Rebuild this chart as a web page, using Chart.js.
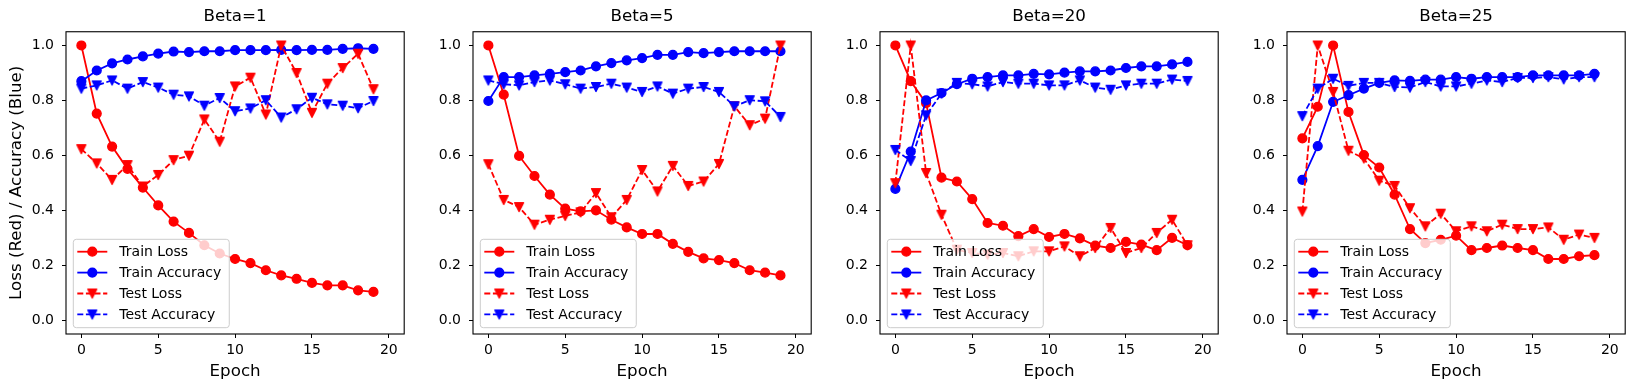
<!DOCTYPE html>
<html><head><meta charset="utf-8">
<script src="https://cdn.jsdelivr.net/npm/chart.js@4.4.1/dist/chart.umd.min.js"></script>
<style>
html,body{margin:0;padding:0;background:#fff;width:1639px;height:391px;overflow:hidden;}
.panel{position:absolute;top:0;width:410px;height:391px;}
canvas{display:block;}
</style></head><body>
<div class="panel" id="p0"><canvas id="c0" width="410" height="391"></canvas></div>
<div class="panel" id="p1"><canvas id="c1" width="410" height="391"></canvas></div>
<div class="panel" id="p2"><canvas id="c2" width="410" height="391"></canvas></div>
<div class="panel" id="p3"><canvas id="c3" width="410" height="391"></canvas></div>
<script>
// ---------------- data ----------------
const epochs = [0,1,2,3,4,5,6,7,8,9,10,11,12,13,14,15,16,17,18,19];
const betaTitles = ['Beta=1','Beta=5','Beta=20','Beta=25'];
const seriesLabels = ['Train Loss','Train Accuracy','Test Loss','Test Accuracy'];
const xTicks = [0,5,10,15,20];
const yTicks = [0.0,0.2,0.4,0.6,0.8,1.0];
const yAxisTitle = 'Loss (Red) / Accuracy (Blue)';
const xAxisTitle = 'Epoch';

const trainLossB1 = [1.0,0.752,0.632,0.551,0.483,0.418,0.359,0.318,0.273,0.243,0.223,0.208,0.182,0.163,0.151,0.136,0.127,0.127,0.109,0.103];
const trainAccB1  = [0.870,0.909,0.935,0.949,0.960,0.970,0.978,0.976,0.979,0.979,0.983,0.983,0.983,0.984,0.983,0.984,0.984,0.988,0.990,0.988];
const testLossB1  = [0.623,0.571,0.511,0.565,0.487,0.529,0.583,0.599,0.731,0.650,0.851,0.883,0.749,1.0,0.900,0.755,0.861,0.918,0.970,0.841];
const testAccB1   = [0.843,0.855,0.873,0.843,0.867,0.847,0.821,0.815,0.781,0.809,0.761,0.771,0.801,0.738,0.768,0.810,0.786,0.781,0.772,0.798];

const trainLossB5 = [1.0,0.821,0.598,0.525,0.457,0.406,0.396,0.400,0.366,0.338,0.314,0.314,0.278,0.249,0.225,0.219,0.208,0.182,0.173,0.163];
const trainAccB5  = [0.798,0.885,0.885,0.891,0.897,0.903,0.909,0.924,0.936,0.946,0.954,0.966,0.966,0.976,0.972,0.976,0.979,0.979,0.979,0.979];
const testLossB5  = [0.568,0.438,0.412,0.348,0.366,0.380,0.393,0.463,0.375,0.438,0.547,0.469,0.562,0.489,0.505,0.569,0.779,0.710,0.734,1.0];
const testAccB5   = [0.873,0.859,0.855,0.867,0.873,0.859,0.843,0.849,0.861,0.847,0.831,0.851,0.825,0.843,0.849,0.831,0.779,0.801,0.797,0.740];

const trainLossB20 = [1.0,0.870,0.790,0.519,0.505,0.441,0.354,0.344,0.306,0.332,0.303,0.314,0.298,0.272,0.263,0.285,0.275,0.255,0.300,0.273];
const trainAccB20  = [0.478,0.614,0.800,0.827,0.859,0.879,0.885,0.891,0.891,0.897,0.895,0.901,0.906,0.906,0.909,0.918,0.924,0.924,0.931,0.940];
const testLossB20  = [0.499,1.0,0.536,0.384,0.257,0.245,0.239,0.245,0.233,0.251,0.251,0.269,0.233,0.263,0.336,0.245,0.263,0.318,0.366,0.273];
const testAccB20   = [0.620,0.580,0.746,0.825,0.864,0.859,0.851,0.867,0.861,0.861,0.855,0.855,0.873,0.847,0.839,0.855,0.861,0.861,0.876,0.871];

const trainLossB25 = [0.662,0.777,1.0,0.758,0.601,0.556,0.457,0.332,0.281,0.293,0.308,0.255,0.263,0.272,0.263,0.255,0.223,0.223,0.233,0.237];
const trainAccB25  = [0.511,0.634,0.795,0.819,0.843,0.864,0.873,0.871,0.876,0.876,0.885,0.879,0.885,0.885,0.885,0.891,0.891,0.891,0.891,0.897];
const testLossB25  = [0.396,1.0,0.831,0.617,0.589,0.508,0.489,0.408,0.342,0.388,0.324,0.342,0.324,0.348,0.332,0.332,0.338,0.293,0.312,0.300];
const testAccB25   = [0.743,0.843,0.879,0.853,0.864,0.864,0.849,0.847,0.867,0.851,0.851,0.861,0.873,0.867,0.882,0.882,0.885,0.877,0.885,0.885];

const panelSeries = [
  [trainLossB1, trainAccB1, testLossB1, testAccB1],
  [trainLossB5, trainAccB5, testLossB5, testAccB5],
  [trainLossB20, trainAccB20, testLossB20, testAccB20],
  [trainLossB25, trainAccB25, testLossB25, testAccB25]
];

// ---------------- styling ----------------
const RED = '#ff0000', BLUE = '#0000ff';
const FONT = 'DejaVu Sans';
const panelLeft = [66, 473, 880, 1287];
const YAXIS_W = 66, RIGHT_PAD = 4;
const DASH = [6, 2.6];
const LINE_W = 1.8;
const PT_R = 4.4;

Chart.defaults.font.family = FONT;
Chart.defaults.color = '#000';

function makeTri(color){
  const c = document.createElement('canvas');
  c.width = 16; c.height = 16;
  const g = c.getContext('2d');
  const h = 4.4;
  g.beginPath();
  g.moveTo(8-h, 8-h); g.lineTo(8+h, 8-h); g.lineTo(8, 8+h); g.closePath();
  g.fillStyle = color; g.fill();
  g.lineWidth = 1.4; g.strokeStyle = color; g.lineJoin = 'round'; g.stroke();
  return c;
}
const triRed = makeTri(RED), triBlue = makeTri(BLUE);

const seriesStyle = [
  {color: RED,  dash: [], marker: 'circle', order: 3},
  {color: BLUE, dash: [], marker: 'circle', order: 2},
  {color: RED,  dash: DASH, marker: triRed, order: 1},
  {color: BLUE, dash: DASH, marker: triBlue, order: 0}
];

const framePlugin = {
  id: 'frame',
  afterDatasetsDraw(chart){
    const {ctx, chartArea: a} = chart;
    ctx.save();
    ctx.strokeStyle = '#000';
    ctx.lineWidth = 1.1;
    ctx.strokeRect(a.left, a.top, a.right - a.left, a.bottom - a.top);
    ctx.restore();
  }
};

const legendPlugin = {
  id: 'mplLegend',
  afterDraw(chart){
    const {ctx, chartArea: a} = chart;
    ctx.save();
    ctx.font = '14px "' + FONT + '"';
    let tw = 0;
    chart.data.datasets.forEach(d => { tw = Math.max(tw, ctx.measureText(d.label).width); });
    const w = 46 + tw + 8, h = 88.4;
    const x = a.left + 7.3, y = a.bottom - 6.3 - h;
    const r = 3;
    ctx.beginPath();
    ctx.moveTo(x + r, y);
    ctx.lineTo(x + w - r, y); ctx.quadraticCurveTo(x + w, y, x + w, y + r);
    ctx.lineTo(x + w, y + h - r); ctx.quadraticCurveTo(x + w, y + h, x + w - r, y + h);
    ctx.lineTo(x + r, y + h); ctx.quadraticCurveTo(x, y + h, x, y + h - r);
    ctx.lineTo(x, y + r); ctx.quadraticCurveTo(x, y, x + r, y);
    ctx.closePath();
    ctx.fillStyle = 'rgba(255,255,255,0.8)';
    ctx.fill();
    ctx.strokeStyle = '#cccccc';
    ctx.lineWidth = 1;
    ctx.stroke();
    chart.data.datasets.forEach((d, i) => {
      const st = seriesStyle[i];
      const ry = y + 12.4 + i * 20.9;
      const lx0 = x + 4, lx1 = x + 34;
      ctx.beginPath();
      ctx.setLineDash(st.dash);
      ctx.strokeStyle = st.color;
      ctx.lineWidth = LINE_W;
      ctx.moveTo(lx0, ry); ctx.lineTo(lx1, ry);
      ctx.stroke();
      ctx.setLineDash([]);
      const cx = (lx0 + lx1) / 2;
      if (st.marker === 'circle') {
        ctx.beginPath();
        ctx.arc(cx, ry, PT_R, 0, Math.PI * 2);
        ctx.fillStyle = st.color; ctx.fill();
        ctx.lineWidth = 1.4; ctx.strokeStyle = st.color; ctx.stroke();
      } else {
        ctx.drawImage(st.marker, cx - 8, ry - 8);
      }
      ctx.fillStyle = '#000';
      ctx.textAlign = 'left';
      ctx.textBaseline = 'middle';
      ctx.fillText(d.label, x + 46, ry + 0.5);
    });
    ctx.restore();
  }
};

panelSeries.forEach((series, p) => {
  const holder = document.getElementById('p' + p);
  holder.style.left = (panelLeft[p] - YAXIS_W) + 'px';
  holder.style.zIndex = 10 - p;
  const datasets = series.map((vals, i) => {
    const st = seriesStyle[i];
    return {
      label: seriesLabels[i],
      data: epochs.map((e, k) => ({x: e, y: vals[k]})),
      borderColor: st.color,
      backgroundColor: st.color,
      borderWidth: LINE_W,
      borderDash: st.dash,
      tension: 0,
      fill: false,
      pointStyle: st.marker,
      pointRadius: PT_R,
      pointBorderWidth: 1.4,
      pointBackgroundColor: st.color,
      pointBorderColor: st.color,
      order: st.order,
      clip: 0
    };
  });
  new Chart(document.getElementById('c' + p), {
    type: 'line',
    data: {datasets},
    options: {
      responsive: false,
      animation: false,
      events: [],
      layout: {padding: {left: 0, right: RIGHT_PAD, top: 0, bottom: 0}},
      plugins: {
        legend: {display: false},
        tooltip: {enabled: false},
        title: {
          display: true,
          text: betaTitles[p],
          fullSize: false,
          color: '#000',
          font: {size: 16.7, weight: 'normal', family: FONT, lineHeight: 1.2},
          padding: {top: 7, bottom: 4.7}
        }
      },
      scales: {
        x: {
          type: 'linear',
          min: -1, max: 21,
          afterFit(scale){ scale.height = 57; },
          afterBuildTicks(scale){ scale.ticks = xTicks.map(v => ({value: v})); },
          ticks: {
            autoSkip: false, maxRotation: 0, padding: 4, color: '#000',
            font: {size: 14, family: FONT},
            callback: v => String(v)
          },
          grid: {display: true, drawOnChartArea: false, drawTicks: true, tickLength: 4, color: '#000', lineWidth: 1},
          border: {display: false},
          title: {
            display: true, text: xAxisTitle, color: '#000',
            font: {size: 16.7, family: FONT, lineHeight: 1.2},
            padding: {top: 0, bottom: 9}
          }
        },
        y: {
          type: 'linear',
          min: -0.05, max: 1.05,
          afterFit(scale){ scale.width = YAXIS_W; },
          afterBuildTicks(scale){ scale.ticks = yTicks.map(v => ({value: v})); },
          ticks: {
            autoSkip: false, padding: 8, color: '#000',
            font: {size: 14, family: FONT},
            callback: v => Number(v).toFixed(1)
          },
          grid: {display: true, drawOnChartArea: false, drawTicks: true, tickLength: 4, color: '#000', lineWidth: 1},
          border: {display: false},
          title: {
            display: p === 0, text: yAxisTitle, color: '#000',
            font: {size: 16.7, family: FONT, lineHeight: 1.2},
            padding: {top: 7, bottom: 0}
          }
        }
      }
    },
    plugins: [framePlugin, legendPlugin]
  });
});
</script>
</body></html>
